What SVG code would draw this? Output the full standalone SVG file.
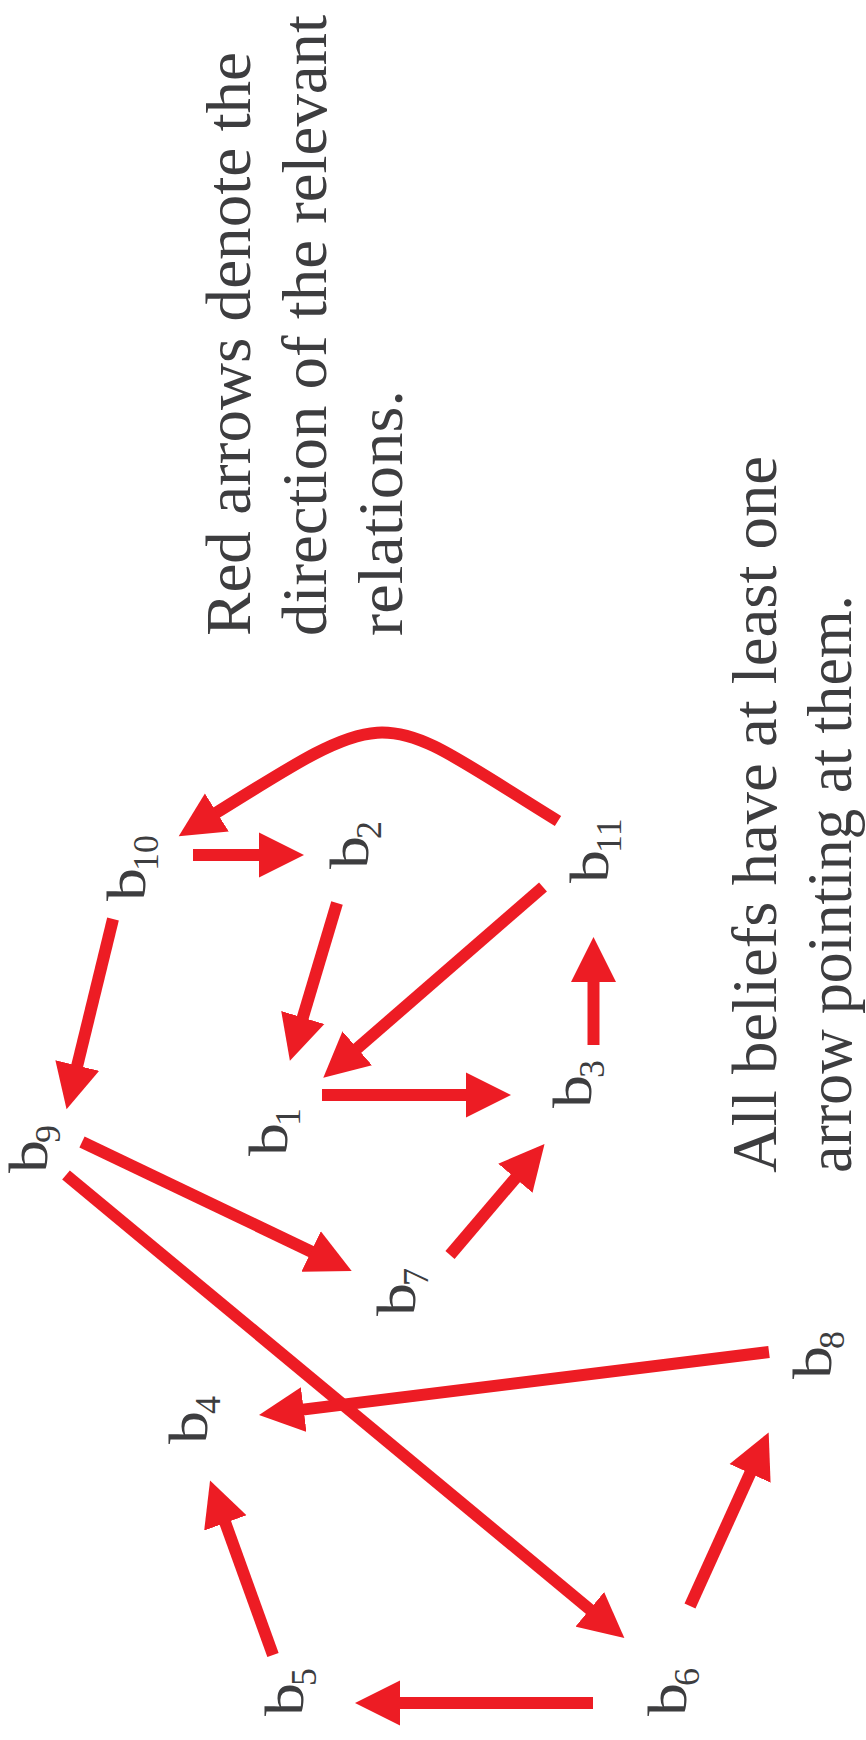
<svg xmlns="http://www.w3.org/2000/svg" width="866" height="1740" viewBox="0 0 866 1740">
  <style>
    .note { font-size: 64px; fill: #3d3d3f; }
    .lb { font-size: 55px; fill: #3d3d3f; }
    .sub { font-size: 36px; fill: #3d3d3f; }
    .edge { fill: none; stroke: #ED1C24; stroke-width: 12; stroke-linecap: butt; marker-end: url(#ah); }
  </style>
  <defs>
    <marker id="ah" viewBox="0 -23 46 46" refX="1" refY="0" markerWidth="46" markerHeight="46" markerUnits="userSpaceOnUse" orient="auto">
      <path d="M0,-22.5 L45,0 L0,22.5 z" fill="#ED1C24"/>
    </marker>
  </defs>
  <rect width="866" height="1740" fill="#ffffff"/>

  <g font-family="Liberation Serif, Times New Roman, serif">
  <!-- notes, set sideways -->
  <g id="note-direction" transform="translate(250,636) rotate(-90)">
    <text class="note" x="0" y="0" textLength="584" lengthAdjust="spacingAndGlyphs">Red arrows denote the</text>
    <text class="note" x="0" y="76" textLength="621" lengthAdjust="spacingAndGlyphs">direction of the relevant</text>
    <text class="note" x="0" y="152" textLength="246" lengthAdjust="spacingAndGlyphs">relations.</text>
  </g>
  <g id="note-beliefs" transform="translate(776,1173) rotate(-90)">
    <text class="note" x="0" y="0" textLength="717" lengthAdjust="spacingAndGlyphs">All beliefs have at least one</text>
    <text class="note" x="0" y="75" textLength="578" lengthAdjust="spacingAndGlyphs">arrow pointing at them.</text>
  </g>

  <!-- relations -->
  <g id="connectors">
    <path class="edge" d="M193,855 L260,855"/>
    <path class="edge" d="M558,821 C378,710 398,699 216,813"/>
    <path class="edge" d="M113,919 L77,1066.5"/>
    <path class="edge" d="M337,903 L302.5,1018.5"/>
    <path class="edge" d="M543,887 L356.5,1049"/>
    <path class="edge" d="M322,1095 L467,1095"/>
    <path class="edge" d="M593.5,1045 L593.5,981"/>
    <path class="edge" d="M82,1142 L312,1252"/>
    <path class="edge" d="M66,1175 L590.5,1610"/>
    <path class="edge" d="M450,1255 L516,1177.5"/>
    <path class="edge" d="M769,1352 L302.7,1409.6"/>
    <path class="edge" d="M273,1655 L225,1522"/>
    <path class="edge" d="M593,1703 L399,1703"/>
    <path class="edge" d="M690,1606 L750.5,1472.5"/>
  </g>

  <!-- beliefs -->
  <g id="b10" transform="translate(145,901) rotate(-90)">
    <text class="lb" transform="scale(1.2,1)">b</text><text class="sub" x="30" y="13">10</text>
  </g>
  <g id="b2" transform="translate(368,869) rotate(-90)">
    <text class="lb" transform="scale(1.2,1)">b</text><text class="sub" x="30" y="13">2</text>
  </g>
  <g id="b11" transform="translate(608,883) rotate(-90)">
    <text class="lb" transform="scale(1.2,1)">b</text><text class="sub" x="30" y="13">11</text>
  </g>
  <g id="b9" transform="translate(47,1173) rotate(-90)">
    <text class="lb" transform="scale(1.2,1)">b</text><text class="sub" x="30" y="13">9</text>
  </g>
  <g id="b1" transform="translate(287,1156) rotate(-90)">
    <text class="lb" transform="scale(1.2,1)">b</text><text class="sub" x="30" y="13">1</text>
  </g>
  <g id="b7" transform="translate(415,1316) rotate(-90)">
    <text class="lb" transform="scale(1.2,1)">b</text><text class="sub" x="30" y="13">7</text>
  </g>
  <g id="b3" transform="translate(591,1108) rotate(-90)">
    <text class="lb" transform="scale(1.2,1)">b</text><text class="sub" x="30" y="13">3</text>
  </g>
  <g id="b8" transform="translate(831,1379) rotate(-90)">
    <text class="lb" transform="scale(1.2,1)">b</text><text class="sub" x="30" y="13">8</text>
  </g>
  <g id="b4" transform="translate(207,1444) rotate(-90)">
    <text class="lb" transform="scale(1.2,1)">b</text><text class="sub" x="30" y="13">4</text>
  </g>
  <g id="b5" transform="translate(303,1716) rotate(-90)">
    <text class="lb" transform="scale(1.2,1)">b</text><text class="sub" x="30" y="13">5</text>
  </g>
  <g id="b6" transform="translate(686,1716) rotate(-90)">
    <text class="lb" transform="scale(1.2,1)">b</text><text class="sub" x="30" y="13">6</text>
  </g>
  </g>
</svg>
